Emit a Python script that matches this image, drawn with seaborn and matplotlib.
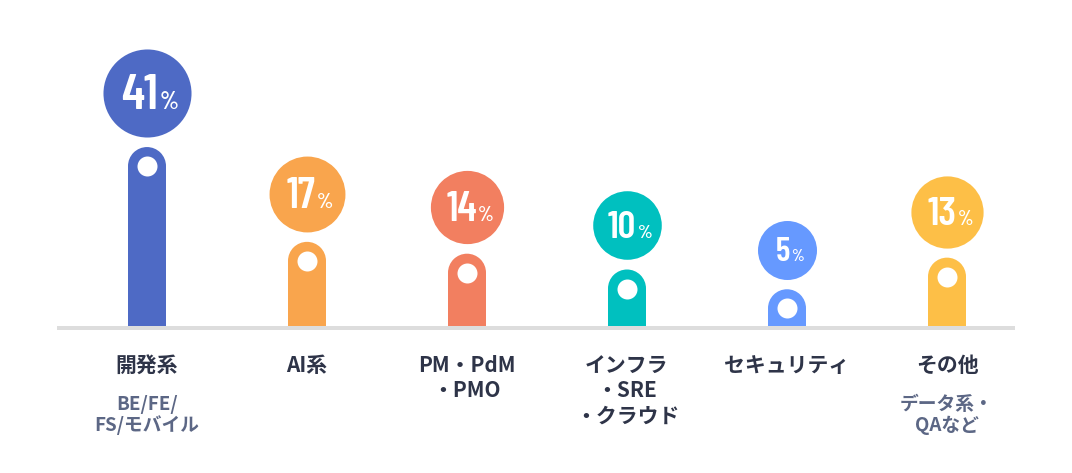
import matplotlib
matplotlib.use('Agg')
import matplotlib.pyplot as plt
import seaborn as sns
import numpy as np
from matplotlib import font_manager
from matplotlib.font_manager import FontProperties
from matplotlib.transforms import offset_copy
from matplotlib.offsetbox import TextArea, HPacker, AnnotationBbox

sns.set_theme(style='white')
plt.rcParams['font.family'] = ['Noto Sans CJK JP', 'DejaVu Sans']

# data
categories = ['開発系', 'AI系', 'PM・PdM\n・PMO', 'インフラ\n・SRE\n・クラウド', 'セキュリティ', 'その他']
sub_labels = ['BE/FE/\nFS/モバイル', '', '', '', '', 'データ系・\nQAなど']
values = [41, 17, 14, 10, 5, 13]
colors = ['#4e6ac5', '#f9a54d', '#f27f60', '#00c0bf', '#6699ff', '#fdbf47']

# layout (pixels)
W, H, DPI = 1072, 473, 100
PT = 72 / DPI             # points per pixel
base_px = 328             # baseline, from top
x0_px, dx_px = 147, 160
px_per_unit = 3.95
bar_px = 38
dot_px = 20
gap_px = 10

# condensed bold face for the big numbers, if any is installed
fonts = font_manager.fontManager.ttflist
def pick_font():
    for name, w in [('Barlow Condensed', 600), ('Oswald', 600), ('Asap Condensed', 600)]:
        hits = [f for f in fonts if f.name == name and f.style == 'normal'
                and f.weight >= 500 and '[' not in f.fname]
        if hits:
            hits.sort(key=lambda f: abs(f.weight - w))
            return FontProperties(fname=hits[0].fname)
    return FontProperties(family='DejaVu Sans', weight='bold')
num_font = pick_font()

fig = plt.figure(figsize=(W / DPI, H / DPI), dpi=DPI)
ax = fig.add_axes([0, (H - base_px) / H, 1, base_px / H])

xpos = np.arange(len(values))
sns.barplot(x=xpos, y=values, hue=xpos, palette=colors, legend=False,
            width=bar_px / dx_px, saturation=1, linewidth=0, ax=ax, zorder=2)

# rounded tops and white dots
ax.scatter(xpos, values, s=(bar_px * PT) ** 2, c=colors, linewidths=0, zorder=3)
ax.scatter(xpos, values, s=(dot_px * PT) ** 2, c='white', linewidths=0, zorder=4)

# value bubbles
for i, (v, c) in enumerate(zip(values, colors)):
    r = 18.4 + 6.9 * np.log(v)
    lift = (bar_px / 2 + gap_px + r) * PT
    tr = offset_copy(ax.transData, fig=fig, x=0, y=lift, units='points')
    ax.scatter([i], [v], s=(2 * r * PT) ** 2, c=c, linewidths=0, zorder=3,
               transform=tr, clip_on=False)
    fp_num = num_font.copy()
    fp_num.set_size(0.82 * r)
    fp_pct = num_font.copy()
    fp_pct.set_size(0.4 * r)
    num = TextArea(str(v), textprops=dict(color='white', fontproperties=fp_num))
    pct = TextArea('%', textprops=dict(color='white', fontproperties=fp_pct))
    box = HPacker(children=[num, pct], align='baseline', pad=0, sep=1)
    ab = AnnotationBbox(box, (i, v), xybox=(3 * PT, lift - 3 * PT),
                        xycoords='data', boxcoords='offset points',
                        frameon=False, box_alignment=(0.5, 0.5), zorder=5,
                        annotation_clip=False)
    ax.add_artist(ab)

# baseline
ax.hlines(0, (57 - x0_px) / dx_px, (1015 - x0_px) / dx_px, color='#dddddd',
          linewidth=4 * PT, zorder=6, clip_on=False)

# category labels
for i, (lab, sub) in enumerate(zip(categories, sub_labels)):
    tr = offset_copy(ax.transData, fig=fig, x=0, y=-27 * PT, units='points')
    ax.text(i, 0, lab, transform=tr, ha='center', va='top', fontsize=15,
            fontweight='bold', color='#2e3448', linespacing=1.24, clip_on=False)
    if sub:
        tr2 = offset_copy(ax.transData, fig=fig, x=0, y=-67 * PT, units='points')
        ax.text(i, 0, sub, transform=tr2, ha='center', va='top', fontsize=13.5,
                fontweight='bold', color='#5c6785', linespacing=1.1, clip_on=False)

ax.set_xlim(-x0_px / dx_px, (W - x0_px) / dx_px)
ax.set_ylim(0, base_px / px_per_unit)
ax.axis('off')

fig.savefig('out.png', dpi=DPI, facecolor='white')
